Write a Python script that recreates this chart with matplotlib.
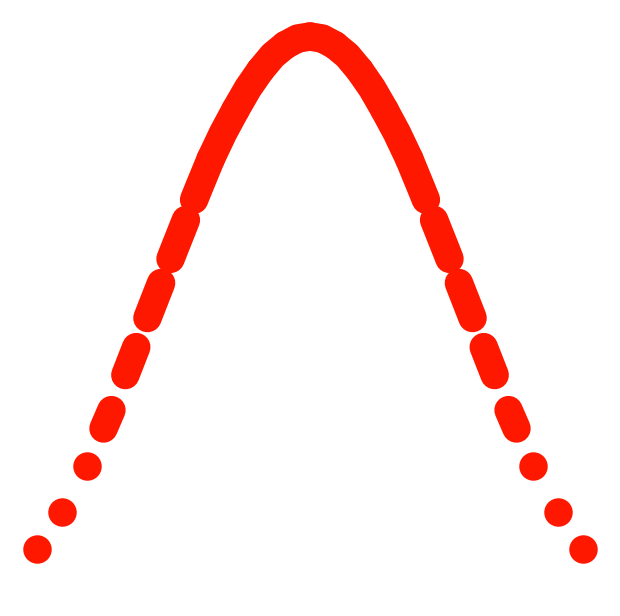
import numpy as np
import matplotlib
matplotlib.use('Agg')
import matplotlib.pyplot as plt

half_curve = [0, 3.3, 7.2, 11.5, 16.2, 21.5, 27.1, 33.2, 39.4, 45.7, 51.9,
              58.1, 64.2, 70.2, 76.1, 81.2, 85.7, 89.9, 93.4, 96.3, 98.3, 99.6, 100]
curve_y = half_curve + half_curve[-2::-1]
curve_x = [i / 2 for i in range(-22, 23)]

# dash length (as part of one step) drawn outward from each whole-step point,
# from the outer end (x=-11) to the peak (x=0); right side mirrors it
dash_frac = [0, 0, 0, 0.32, 0.44, 0.55, 0.62, 0.67, 1, 1, 1, 1]

color = '#ff1800'
lw = 20.5  # points, ~28 px

fig = plt.figure(figsize=(6.2, 6.16), dpi=100)
ax = fig.add_axes([0, 0, 1, 1])
ax.set_xlim(-12.49, 12.49)
ax.set_ylim(-13.07, 107.12)
ax.axis('off')


def dash(x0, x1):
    # piece of the curve between x0 and x1 (x0 <= x1)
    inner = [x for x in curve_x if x0 < x < x1]
    xs = [x0] + inner + [x1]
    ys = np.interp(xs, curve_x, curve_y)
    if x1 - x0 < 1e-9:
        ax.plot(xs[:1], ys[:1], 'o', ms=lw, mew=0, color=color)
    else:
        ax.plot(xs, ys, color=color, lw=lw, solid_capstyle='round',
                solid_joinstyle='round')


for k, f in enumerate(dash_frac):
    xk = k - 11
    dash(xk - f, xk)     # left side
    dash(-xk, -xk + f)   # right side

fig.savefig('out.png', dpi=100)
